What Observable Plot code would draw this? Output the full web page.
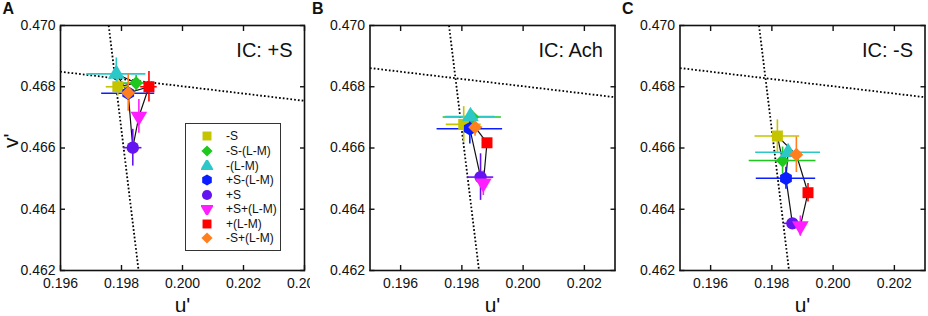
<!DOCTYPE html>
<html>
<head>
<meta charset="utf-8">
<script src="https://cdn.jsdelivr.net/npm/d3@7"></script>
<script src="https://cdn.jsdelivr.net/npm/@observablehq/plot@0.6"></script>
<style>
  html, body { margin: 0; padding: 0; background: #fff; }
  #chart { position: relative; width: 928px; height: 316px; font-family: "Liberation Sans", Arial, sans-serif; }
  #chart > svg { position: absolute; top: 0; }
  #legend { position: absolute; left: 185px; top: 123px; width: 96px; height: 128px; border: 1px solid #333; box-sizing: border-box; background: #fff; }
  #legend .row { position: absolute; left: 0; height: 14px; display: flex; align-items: center; font-size: 12px; color: #111; }
  #legend svg { position: absolute; left: 15px; }
  #legend span { position: absolute; left: 40px; white-space: nowrap; line-height: 14px; }
</style>
</head>
<body>
<div id="chart"></div>
<script>
// ---- data ----
const conditions = ["-S", "-S-(L-M)", "-(L-M)", "+S-(L-M)", "+S", "+S+(L-M)", "+(L-M)", "-S+(L-M)"];
const colors = ["#c4c400", "#1ec81e", "#2cc8c8", "#0a1eff", "#6414f0", "#ff1eff", "#ff0000", "#ff7f1e"];
const shapes = ["square", "diamond", "triangle", "hexagon", "circle", "triangleDown", "square", "diamond"];

// Panel A: IC: +S
const uA = [0.19788, 0.19848, 0.19783, 0.19822, 0.19837, 0.19857, 0.19890, 0.19822];
const vA = [0.46800, 0.46812, 0.46842, 0.46779, 0.46601, 0.46703, 0.46800, 0.46780];
const uErrA = [0.00038, 0.00050, 0.00097, 0.00087, 0.00030, 0.00008, 0.00027, 0.00012];
const vErrA = [0.00030, 0.00025, 0.00052, 0.00012, 0.00060, 0.00055, 0.00050, 0.00060];

// Panel B: IC: Ach
const uB = [0.19806, 0.19834, 0.19828, 0.19826, 0.19861, 0.19870, 0.19882, 0.19843];
const vB = [0.46677, 0.46701, 0.46703, 0.46663, 0.46505, 0.46485, 0.46617, 0.46668];
const uErrB = [0.00057, 0.00095, 0.00081, 0.00107, 0.00043, 0.00010, 0.00010, 0.00025];
const vErrB = [0.00058, 0.00020, 0.00020, 0.00050, 0.00076, 0.00040, 0.00010, 0.00030];

// Panel C: IC: -S
const uC = [0.19818, 0.19835, 0.19853, 0.19846, 0.19867, 0.19893, 0.19918, 0.19880];
const vC = [0.46639, 0.46559, 0.46586, 0.46501, 0.46354, 0.46345, 0.46454, 0.46578];
const uErrC = [0.00073, 0.00109, 0.00106, 0.00097, 0.00027, 0.00010, 0.00008, 0.00010];
const vErrC = [0.00053, 0.00044, 0.00010, 0.00036, 0.00010, 0.00033, 0.00030, 0.00058];

// Dotted reference lines
const steepU = [0.19758, 0.19856];
const steepV = [0.47000, 0.46200];
const shallowU = [0.19500, 0.20400];
const shallowV = [0.46861, 0.46754];

const yTicks = [0.462, 0.464, 0.466, 0.468, 0.470];
const xTicksA = [0.196, 0.198, 0.200, 0.202, 0.204];
const xTicksBC = [0.196, 0.198, 0.200, 0.202];

// ---- symbols ----
const triangleDown = {
  draw(context, size) {
    const s3 = Math.sqrt(3);
    const y = -Math.sqrt(size / (s3 * 3));
    context.moveTo(0, -y * 2);
    context.lineTo(-s3 * y, y);
    context.lineTo(s3 * y, y);
    context.closePath();
  }
};
const hexagon = {
  draw(context, size) {
    const r = Math.sqrt(size / (1.5 * Math.sqrt(3)));
    for (let i = 0; i < 6; i++) {
      const a = Math.PI / 6 + i * Math.PI / 3;
      const x = r * Math.cos(a), y = r * Math.sin(a);
      if (i === 0) context.moveTo(x, y); else context.lineTo(x, y);
    }
    context.closePath();
  }
};
const symbolMap = {
  square: d3.symbolSquare,
  diamond: d3.symbolDiamond2,
  triangle: d3.symbolTriangle,
  hexagon: hexagon,
  circle: d3.symbolCircle,
  triangleDown: triangleDown
};

const fmt = d3.format(".3f");
const FONT = '"Liberation Sans", Arial, sans-serif';

function panel({u, v, uErr, vErr, xDomain, xTicks, letter, title, showYLabel}) {
  const rows = conditions.map((c, i) => ({
    cond: c, u: u[i], v: v[i], ue: uErr[i], ve: vErr[i], color: colors[i], shape: shapes[i]
  }));
  const steep = steepU.map((d, i) => ({u: d, v: steepV[i]}));
  const shallow = shallowU.map((d, i) => ({u: d, v: shallowV[i]}));
  const dotted = {stroke: "black", strokeWidth: 1.8, strokeDasharray: "1.7 2.1", strokeLinecap: "butt", clip: true};
  const marks = [
    Plot.line(steep, {x: "u", y: "v", ...dotted}),
    Plot.line(shallow, {x: "u", y: "v", ...dotted}),
    Plot.line(rows, {x: "u", y: "v", curve: "linear-closed", stroke: "#111", strokeWidth: 1.2}),
    Plot.ruleY(rows, {y: "v", x1: d => d.u - d.ue, x2: d => d.u + d.ue, stroke: "color", strokeWidth: 1.6}),
    Plot.ruleX(rows, {x: "u", y1: d => d.v - d.ve, y2: d => d.v + d.ve, stroke: "color", strokeWidth: 1.6}),
    ...rows.map(d => Plot.dot([d], {x: "u", y: "v", fill: d.color, stroke: "none", r: 6.2, symbol: symbolMap[d.shape]})),
    Plot.frame({stroke: "#111", strokeWidth: 1.6}),
    Plot.axisX({anchor: "bottom", ticks: xTicks, tickSize: -5, tickPadding: 13, tickFormat: fmt, label: null, fontSize: 14, stroke: "#111", strokeWidth: 1.4}),
    Plot.axisX({anchor: "top", ticks: xTicks, tickSize: -5, tickFormat: () => "", label: null, stroke: "#111", strokeWidth: 1.4}),
    Plot.axisY({anchor: "left", ticks: yTicks, tickSize: -5, tickPadding: 10, tickFormat: fmt, label: null, fontSize: 14, stroke: "#111", strokeWidth: 1.4}),
    Plot.axisY({anchor: "right", ticks: yTicks, tickSize: -5, tickFormat: () => "", label: null, stroke: "#111", strokeWidth: 1.4}),
    Plot.text([title], {frameAnchor: "top-right", dx: -12, dy: 31, lineAnchor: "bottom", textAnchor: "end", fontSize: 20, fill: "#111"}),
    Plot.text(["u'"], {frameAnchor: "bottom", dy: 41, lineAnchor: "bottom", fontSize: 21, fill: "#111"}),
    Plot.text([letter], {frameAnchor: "top-left", dx: -58, dy: -12, lineAnchor: "bottom", textAnchor: "start", fontSize: 16, fontWeight: "bold", fill: "#111"})
  ];
  if (showYLabel) {
    marks.push(Plot.text(["v'"], {frameAnchor: "left", dx: -49, rotate: -90, fontSize: 21, fill: "#111"}));
  }
  return Plot.plot({
    width: 310,
    height: 316,
    marginLeft: showYLabel ? 60 : 59.5,
    marginRight: showYLabel ? 6 : 5.5,
    marginTop: 25,
    marginBottom: 46,
    style: {fontFamily: FONT, color: "#111", background: "transparent"},
    x: {domain: xDomain},
    y: {domain: [0.462, 0.470]},
    marks
  });
}

const chart = document.getElementById("chart");
const pA = panel({u: uA, v: vA, uErr: uErrA, vErr: vErrA, xDomain: [0.196, 0.204], xTicks: xTicksA, letter: "A", title: "IC: +S", showYLabel: true});
const pB = panel({u: uB, v: vB, uErr: uErrB, vErr: vErrB, xDomain: [0.195, 0.203], xTicks: xTicksBC, letter: "B", title: "IC: Ach", showYLabel: false});
const pC = panel({u: uC, v: vC, uErr: uErrC, vErr: vErrC, xDomain: [0.195, 0.203], xTicks: xTicksBC, letter: "C", title: "IC: -S", showYLabel: false});
pA.style.left = "0px";
pB.style.left = "310px";
pC.style.left = "620px";
chart.append(pA, pB, pC);

// Legend (inside panel A)
const legend = document.createElement("div");
legend.id = "legend";
const rowTops = [135, 150, 164.5, 179, 193.5, 208, 222.5, 237];
conditions.forEach((c, i) => {
  const row = document.createElement("div");
  row.className = "row";
  row.style.top = (rowTops[i] - 123 - 7) + "px";
  row.style.width = "94px";
  const s = d3.create("svg").attr("width", 12).attr("height", 12).style("top", "1px");
  s.append("path")
    .attr("transform", "translate(6,6)")
    .attr("d", d3.symbol(symbolMap[shapes[i]], 80)())
    .attr("fill", colors[i]);
  row.append(s.node());
  const t = document.createElement("span");
  t.textContent = c;
  row.append(t);
  legend.append(row);
});
chart.append(legend);
</script>
</body>
</html>
